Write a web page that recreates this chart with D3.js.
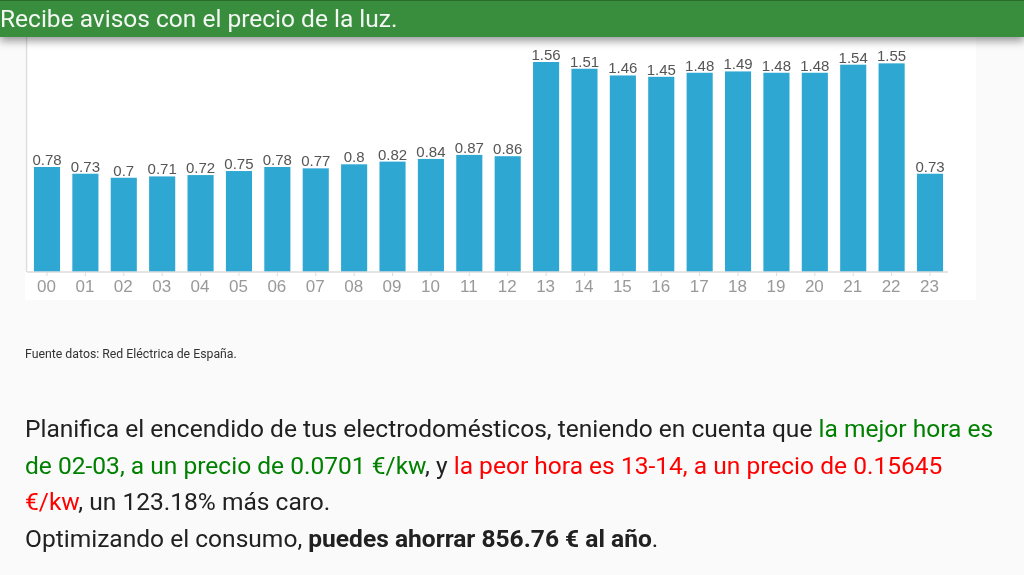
<!DOCTYPE html>
<html>
<head>
<meta charset="utf-8">
<script src="https://cdn.jsdelivr.net/npm/d3@7"></script>
<style>
html, body { margin: 0; padding: 0; background: #fafafa; overflow: hidden; }
svg { display: block; }
text { font-family: Roboto, sans-serif; }
</style>
</head>
<body>
<script>
var hours = ['00','01','02','03','04','05','06','07','08','09','10','11','12','13','14','15','16','17','18','19','20','21','22','23']
var prices = [0.78,0.73,0.7,0.71,0.72,0.75,0.78,0.77,0.8,0.82,0.84,0.87,0.86,1.56,1.51,1.46,1.45,1.48,1.49,1.48,1.48,1.54,1.55,0.73]

var title = 'Recibe avisos con el precio de la luz.'
var source = 'Fuente datos: Red Eléctrica de España.'
var paragraph = [
    [['Planifica el encendido de tus electrodomésticos, teniendo en cuenta que ', 'n'], ['la mejor hora es', 'g']],
    [['de 02-03, a un precio de 0.0701 €/kw', 'g'], [', y ', 'n'], ['la peor hora es 13-14, a un precio de 0.15645', 'r']],
    [['€/kw', 'r'], [', un 123.18% más caro.', 'n']],
    [['Optimizando el consumo, ', 'n'], ['puedes ahorrar 856.76 € al año', 'b'], ['.', 'n']]
]

var width = 1024
var height = 575
var baseline = 272

var svg = d3.select('body').append('svg').attr('width', width).attr('height', height)

var defs = svg.append('defs')
var shadow = defs.append('filter').attr('id', 'shadow').attr('x', '-5%').attr('y', '-50%').attr('width', '110%').attr('height', '250%')
shadow.append('feDropShadow').attr('dx', 0).attr('dy', 4).attr('stdDeviation', 4).attr('flood-color', '#000').attr('flood-opacity', 0.4)
var soft = defs.append('filter').attr('id', 'soft')
soft.append('feGaussianBlur').attr('stdDeviation', 0.35)

svg.append('rect').attr('width', width).attr('height', height).attr('fill', '#fafafa')

// chart panel
svg.append('rect').attr('x', 25).attr('y', 30).attr('width', 951).attr('height', 270).attr('fill', '#fff')

var x = d3.scaleBand().domain(hours).range([27.8, 949.2]).paddingInner(0.32).paddingOuter(0.16)
var y = d3.scaleLinear().domain([0, 1.56]).range([baseline, baseline - 210])

var chart = svg.append('g').attr('filter', 'url(#soft)')

chart.append('line').attr('x1', 26.5).attr('x2', 26.5).attr('y1', 30).attr('y2', baseline)
    .attr('stroke', '#dcdcdc').attr('stroke-width', 1.5)

chart.selectAll('rect.bar').data(prices).enter().append('rect')
    .attr('class', 'bar')
    .attr('x', (d, i) => x(hours[i]))
    .attr('y', d => y(d))
    .attr('width', x.bandwidth())
    .attr('height', d => baseline - y(d))
    .attr('fill', '#2ea8d2')

chart.selectAll('text.val').data(prices).enter().append('text')
    .attr('class', 'val')
    .attr('x', (d, i) => x(hours[i]) + x.bandwidth() / 2)
    .attr('y', d => y(d) - 2)
    .attr('text-anchor', 'middle')
    .attr('fill', '#555')
    .style('font-family', '"Liberation Sans", sans-serif')
    .style('font-size', '15px')
    .text(d => d)

var axis = d3.axisBottom(x).tickSize(4).tickPadding(4)
var axisG = chart.append('g').attr('transform', 'translate(0,' + baseline + ')').call(axis)
axisG.select('.domain').attr('stroke', '#ddd').attr('stroke-width', 1.5).attr('d', 'M27,0H948')
axisG.selectAll('.tick line').attr('stroke', '#ddd')
axisG.selectAll('.tick text').attr('fill', '#999').attr('dx', -0.5)
    .style('font-family', '"Liberation Sans", sans-serif').style('font-size', '17px')

// header bar
svg.append('rect').attr('x', 0).attr('y', 0).attr('width', width).attr('height', 37)
    .attr('fill', '#388e3c').attr('filter', 'url(#shadow)')
svg.append('rect').attr('width', width).attr('height', 1).attr('fill', '#2a6b2e')
svg.append('text').attr('x', 0).attr('y', 27).attr('fill', '#f4f8f4')
    .style('font-size', '24.5px').text(title)

svg.append('text').attr('x', 25).attr('y', 358).attr('fill', '#333')
    .style('font-size', '12.3px').text(source)

// paragraph under the chart
var colours = { n: '#212121', g: '#008000', r: '#ff0000', b: '#212121' }
var lineY = d3.scaleLinear().domain([0, 3]).range([437, 547])

var lines = svg.selectAll('text.para').data(paragraph).enter().append('text')
    .attr('class', 'para')
    .attr('x', 25)
    .attr('y', (d, i) => lineY(i))
    .style('font-size', '24.55px')

lines.selectAll('tspan').data(d => d).enter().append('tspan')
    .attr('fill', d => colours[d[1]])
    .attr('font-weight', d => d[1] == 'b' ? 700 : 400)
    .attr('xml:space', 'preserve')
    .style('white-space', 'pre')
    .text(d => d[0])
</script>
</body>
</html>
